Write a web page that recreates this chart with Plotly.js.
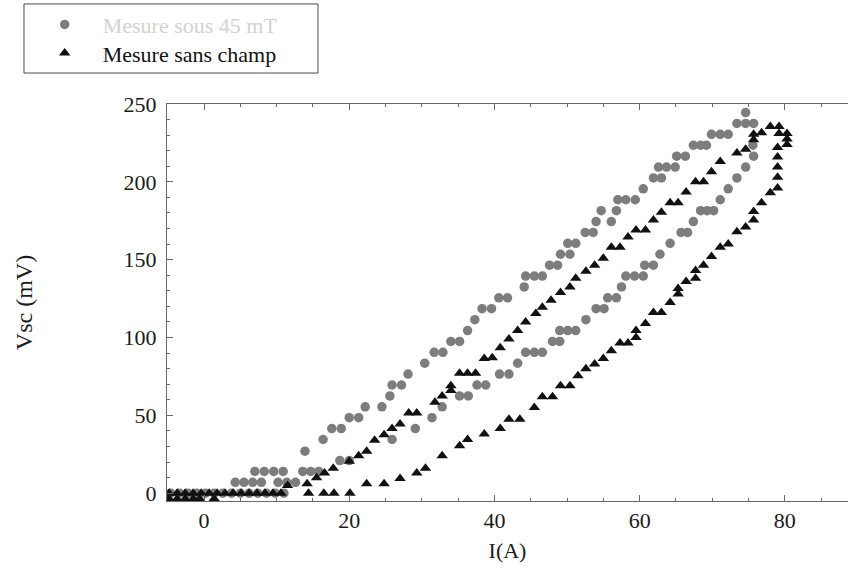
<!DOCTYPE html>
<html>
<head>
<meta charset="utf-8">
<script src="https://cdn.plot.ly/plotly-3.0.1.min.js"></script>
<style>html,body{margin:0;padding:0;background:#fff;}#chart{width:848px;height:575px;}</style>
</head>
<body>
<div id="chart"></div>
<script>
// Series 1: "Mesure sous 45 mT" (grey circles)
var circX = [
  -4.6,-3.4,-2.2,-1.0,0.2,1.4,2.6,3.8,5.0,6.2,7.4,8.6,9.8,11.0,
  4.3,5.5,6.7,7.9,10.2,11.4,12.6,
  7.0,8.3,9.6,10.9,13.6,14.7,15.8,
  13.9,16.4,17.6,18.9,20.0,21.3,22.2,24.5,25.6,25.9,27.2,28.1,30.4,31.7,32.9,34.0,35.2,36.3,37.3,38.3,39.6,
  40.6,41.8,44.1,44.3,45.5,46.6,47.6,48.7,49.1,50.4,50.1,51.2,52.5,53.6,54.0,56.1,54.7,56.8,57.0,58.1,59.4,
  60.5,61.9,63.0,62.6,63.7,64.9,65.1,66.3,67.4,68.4,69.2,69.9,71.1,72.2,73.4,74.6,75.7,74.6,
  75.6,75.7,74.6,73.4,72.2,71.1,68.4,69.3,70.2,67.4,65.7,66.6,64.2,62.8,60.7,61.9,58.1,59.3,60.5,57.5,
  55.6,56.8,54.0,55.1,52.6,49.0,50.1,51.2,48.0,49.0,44.3,45.5,46.6,43.2,40.7,42.0,37.6,38.8,35.2,36.4,
  32.8,31.4,29.1,25.9,18.7,20.0
];
var circY = [
  0,0,0,0,0,0,0,0,0,0,0,0,0,0,
  7,7,7,7,7,7,7,
  14,14,14,14,14,14,14,
  27,34.5,41.5,41.5,48.5,48.5,55.5,55.5,62.5,69.5,69.5,76.5,83.5,90.5,90.5,97.5,97.5,104.5,111.5,118.5,118.5,
  125.5,125.5,132.5,139.5,139.5,139.5,146.5,146.5,153.5,153.5,160.5,160.5,167.5,167.5,174.5,174.5,181.5,181.5,188.5,188.5,188.5,
  195.5,202.5,202.5,209.5,209.5,209.5,216.5,216.5,223.5,223.5,223.5,230.5,230.5,230.5,237.5,237.5,237.5,244.5,
  223.5,216.5,209.5,202.5,195.5,188.5,181.5,181.5,181.5,174.5,167.5,167.5,160.5,153.5,146.5,146.5,139.5,139.5,139.5,132.5,
  125.5,125.5,118.5,118.5,111.5,104.5,104.5,104.5,97.5,97.5,90.5,90.5,90.5,83.5,76.5,76.5,69.5,69.5,62.5,62.5,
  55.5,48.5,41.5,34.5,21,21
];

// Series 2: "Mesure sans champ" (black triangles)
var triX = [
  -4.8,-3.7,-2.6,-1.5,-0.4,0.7,1.8,2.9,4.0,5.1,6.2,7.3,8.4,9.5,10.6,14.4,16.5,17.9,20.1,
  -4.8,-3.7,-2.6,-1.5,-0.6,1.4,
  11.5,14.2,15.5,16.6,17.8,20.0,21.3,22.4,23.5,24.8,25.9,27.0,28.2,29.3,31.8,32.8,34.0,34.0,35.2,36.3,37.4,
  38.6,39.7,40.8,42.0,43.2,44.3,45.7,46.6,47.8,49.1,50.4,51.2,52.6,53.8,55.0,56.1,57.3,58.4,59.5,60.8,
  61.9,63.0,64.2,65.3,66.4,67.7,68.8,69.9,71.1,73.4,74.6,75.7,75.7,76.8,78.0,79.2,79.2,80.3,80.3,80.3,
  22.4,24.8,27.0,29.3,30.5,32.8,35.2,36.3,38.6,40.8,42.0,43.5,45.5,46.6,48.0,49.1,50.4,51.5,52.6,53.8,
  55.0,56.1,57.3,58.4,59.5,59.5,60.8,61.9,63.0,64.2,65.3,65.3,66.4,67.7,67.7,68.8,69.9,71.1,72.2,73.4,
  74.6,75.7,75.7,76.8,78.0,79.0,79.0,79.0,79.0,79.0
];
var triY = [
  0,0,0,0,0,0,0,0,0,0,0,0,0,0,0,0,0,0,0,
  -3.5,-3.5,-3.5,-3.5,-3.5,-3.5,
  5,6,10,13,16,20.5,24,27,34,37.5,41.5,44.5,51.5,51.5,58.5,62.5,66,69,77,77,77,
  86.5,87,93.5,99,104.5,110,115.5,119.5,124,129,132.5,138,142.5,146.5,151,158,158,164.5,169,169,
  175.5,180.5,186.5,186.5,193.5,200,200,206.5,213,218.5,221,227,230.5,231.5,235.5,235.5,231,231,227.5,224,
  6,6,9.5,13,16,24,30.5,34.5,38,41.5,47.5,47.5,55,62,62,69,69,75.5,80,83,
  86.5,91.5,96.5,96.5,100,104.5,109,116,116,122.5,128,131.5,136,138,143,146.5,152,158,160,168,
  171,175.5,181,186.5,193,196,203,209.5,216,222
];

var xTicks = [0, 20, 40, 60, 80];
var yTicks = [0, 50, 100, 150, 200, 250];
var seriesNames = ['<span style="color:#d2d2d2">Mesure sous 45 mT</span>', 'Mesure sans champ'];

var traces = [
  {x: circX, y: circY, type: 'scatter', mode: 'markers', name: seriesNames[0], legend: 'legend',
   marker: {symbol: 'circle', size: 9.5, color: '#7d7d7d'}},
  {x: triX, y: triY, type: 'scatter', mode: 'markers', name: seriesNames[1], legend: 'legend2',
   marker: {symbol: 'triangle-up', size: 10, color: '#111111'}}
];

var axisCol = '#6a6a6a';
var legFont = {size: 22, color: '#111111'};
var layout = {
  width: 848, height: 575,
  margin: {l: 167, r: 0, t: 104, b: 74, pad: 0},
  paper_bgcolor: '#ffffff', plot_bgcolor: '#ffffff',
  font: {family: '"Liberation Serif", "Times New Roman", serif', size: 22, color: '#1a1a1a'},
  showlegend: true,
  xaxis: {
    range: [-5.1, 88.7], tickvals: xTicks, ticktext: xTicks.map(String),
    ticks: 'inside', ticklen: 6, tickcolor: axisCol, tickwidth: 1,
    showline: true, linecolor: axisCol, linewidth: 1, mirror: 'ticks',
    showgrid: false, zeroline: false, automargin: false,
    minor: {dtick: 5, tick0: 0, ticks: 'inside', ticklen: 3, tickcolor: axisCol, showgrid: false},
    ticklabelstandoff: 0,
    title: {text: 'I(A)', font: {size: 22}, standoff: 10}
  },
  yaxis: {
    range: [-5, 250], tickvals: yTicks, ticktext: yTicks.map(String),
    ticks: 'inside', ticklen: 6, tickcolor: axisCol, tickwidth: 1,
    showline: true, linecolor: axisCol, linewidth: 1, mirror: false,
    showgrid: false, zeroline: false, automargin: false,
    minor: {dtick: 10, tick0: 0, ticks: 'inside', ticklen: 3, tickcolor: axisCol, showgrid: false},
    ticklabelstandoff: 5,
    title: {text: 'Vsc (mV)', font: {size: 24}, standoff: 84}
  },
  legend: {
    x: -0.206, xanchor: 'left', y: 1.2, yanchor: 'middle',
    bgcolor: 'rgba(0,0,0,0)', borderwidth: 0,
    font: legFont, itemwidth: 66, traceorder: 'normal'
  },
  legend2: {
    x: -0.206, xanchor: 'left', y: 1.128, yanchor: 'middle',
    bgcolor: 'rgba(0,0,0,0)', borderwidth: 0,
    font: legFont, itemwidth: 66, traceorder: 'normal'
  },
  shapes: [
    {type: 'rect', xref: 'paper', yref: 'paper', x0: -0.21, x1: 0.2217, y0: 1.078, y1: 1.252,
     line: {color: '#4a4a4a', width: 1}, fillcolor: 'rgba(0,0,0,0)', layer: 'below'}
  ]
};

Plotly.newPlot('chart', traces, layout, {displayModeBar: false, staticPlot: true});
</script>
</body>
</html>
